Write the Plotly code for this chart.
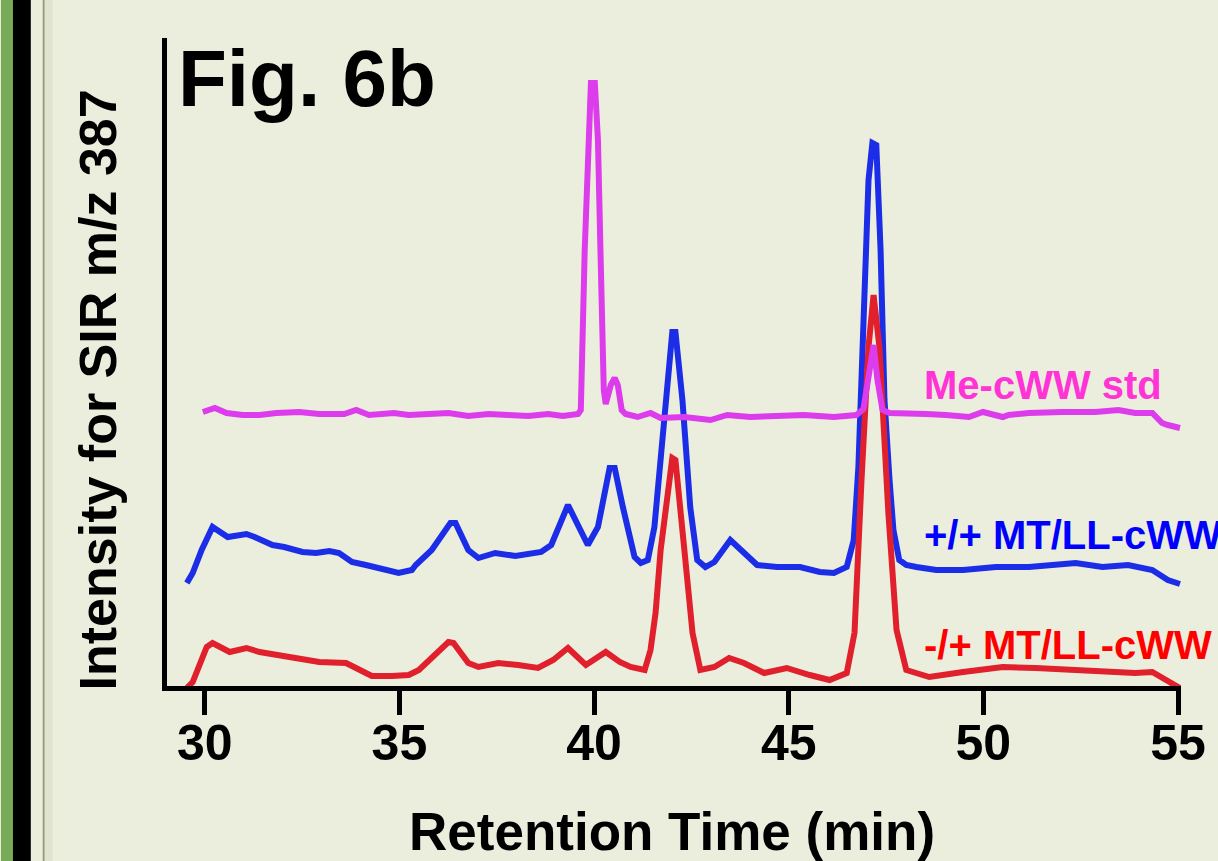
import plotly.graph_objects as go

# ---- data (retention time in min, intensity in arbitrary units) ----
me_std_time = [29.95, 30.26, 30.56, 30.97, 31.41, 31.84, 32.43, 32.94, 33.58, 33.89, 34.22, 34.86,
               35.24, 35.75, 36.26, 36.77, 37.29, 37.80, 38.31, 38.82, 39.20, 39.59, 39.66, 39.76,
               39.87, 39.92, 40.02, 40.10, 40.17, 40.25, 40.30, 40.43, 40.53, 40.61, 40.71, 40.81,
               41.12, 41.45, 41.71, 42.32, 42.99, 43.42, 44.01, 44.88, 45.39, 46.16, 46.74, 46.92,
               47.05, 47.18, 47.28, 47.41, 47.59, 48.20, 48.53, 49.04, 49.63, 49.99, 50.50, 50.65,
               51.17, 52.03, 52.88, 53.47, 53.90, 54.34, 54.59, 54.74, 55.05]
me_std_int = [277, 281, 276, 274, 274, 276, 277, 275, 275, 279, 274, 276,
              274, 275, 276, 273, 275, 274, 273, 275, 273, 275, 279, 439,
              589, 606, 606, 549, 429, 299, 285, 304, 311, 304, 279, 275,
              272, 276, 271, 272, 269, 274, 272, 274, 274, 272, 274, 280,
              309, 344, 309, 279, 276, 276, 275, 274, 272, 277, 272, 274,
              276, 277, 277, 279, 276, 276, 266, 264, 261]

wt_time = [29.54, 29.69, 29.92, 30.13, 30.20, 30.59, 31.07, 31.28, 31.74, 32.04, 32.51, 32.86,
           33.20, 33.45, 33.78, 34.14, 34.47, 34.98, 35.32, 35.42, 35.83, 36.31, 36.44, 36.77,
           37.03, 37.46, 37.98, 38.64, 38.90, 39.33, 39.84, 40.10, 40.40, 40.53, 40.74, 41.04,
           41.20, 41.38, 41.55, 41.81, 42.01, 42.09, 42.27, 42.47, 42.65, 42.86, 43.09, 43.50,
           43.85, 44.19, 44.70, 45.29, 45.80, 46.16, 46.49, 46.67, 46.79, 46.92, 47.05, 47.15,
           47.25, 47.36, 47.46, 47.59, 47.69, 47.84, 48.02, 48.28, 48.79, 49.48, 50.32, 51.17,
           52.03, 52.37, 53.06, 53.72, 54.34, 54.74, 55.05]
wt_int = [106, 116, 139, 159, 162, 152, 155, 152, 144, 142, 137, 136,
          138, 136, 127, 124, 121, 116, 119, 124, 139, 166, 166, 139,
          131, 136, 133, 137, 144, 184, 144, 162, 221, 221, 182, 132,
          126, 129, 162, 272, 357, 357, 289, 182, 129, 122, 127, 149,
          136, 124, 122, 122, 117, 116, 122, 149, 222, 389, 509, 546,
          544, 439, 289, 209, 159, 129, 124, 122, 119, 119, 122, 122,
          124, 126, 122, 124, 119, 109, 105]

het_time = [29.54, 29.69, 30.05, 30.20, 30.64, 31.07, 31.41, 31.84, 32.43, 32.94, 33.63, 33.96,
            34.29, 34.81, 35.24, 35.50, 36.26, 36.39, 36.77, 37.03, 37.54, 38.05, 38.56, 38.95,
            39.33, 39.79, 40.30, 40.66, 40.94, 41.30, 41.45, 41.58, 41.71, 42.01, 42.09, 42.32,
            42.53, 42.73, 43.09, 43.47, 43.85, 44.37, 44.95, 45.54, 46.05, 46.49, 46.69, 46.87,
            47.05, 47.18, 47.33, 47.56, 47.77, 48.02, 48.61, 49.48, 50.32, 50.50, 51.34, 52.19,
            53.06, 53.90, 54.34, 54.74, 55.05]
het_int = [1, 7, 42, 46, 37, 41, 37, 34, 31, 27, 26, 19,
           13, 13, 14, 19, 47, 46, 26, 22, 26, 24, 21, 29,
           41, 24, 37, 27, 22, 19, 39, 76, 139, 231, 229, 139,
           56, 19, 22, 31, 26, 16, 21, 14, 9, 16, 56, 209,
           342, 394, 342, 176, 59, 19, 12, 17, 21, 22, 21, 19,
           17, 16, 17, 7, 1]

x_ticks = [30, 35, 40, 45, 50, 55]
x_range = [29.030, 55.077]
y_range = [3, 651]

series_labels = ["Me-cWW std", "+/+ MT/LL-cWW", "-/+ MT/LL-cWW"]

# ---- figure ----
W, H = 1218, 861
ML, MR, MT, MB = 167, 31, 38, 175
PW, PH = W - ML - MR, H - MT - MB
BG = "#ebeedd"
FONT = "Liberation Sans, Arial, sans-serif"


def px_x(p):
    return (p - ML) / PW


def px_y(p):
    return (H - MB - p) / PH


fig = go.Figure()
fig.add_trace(go.Scatter(x=wt_time, y=wt_int, mode="lines",
                         line=dict(color="#1c2de8", width=6), name=series_labels[1]))
fig.add_trace(go.Scatter(x=het_time, y=het_int, mode="lines",
                         line=dict(color="#e0202c", width=6), name=series_labels[2]))
fig.add_trace(go.Scatter(x=me_std_time, y=me_std_int, mode="lines",
                         line=dict(color="#dc3cec", width=6), name=series_labels[0]))

fig.update_layout(
    width=W, height=H,
    margin=dict(l=ML, r=MR, t=MT, b=MB),
    paper_bgcolor=BG, plot_bgcolor=BG,
    showlegend=False,
    font=dict(family=FONT, color="black"),
)
fig.update_xaxes(
    range=x_range, tickvals=x_ticks, ticktext=[str(v) for v in x_ticks],
    showline=True, linecolor="black", linewidth=5,
    ticks="outside", ticklen=24, tickwidth=5, tickcolor="black",
    tickfont=dict(family=FONT, size=50, color="black", weight="bold"),
    ticklabelstandoff=-15, ticklabeloverflow="allow",
    showgrid=False, zeroline=False,
)
fig.update_yaxes(
    range=y_range, showline=True, linecolor="black", linewidth=5,
    showticklabels=False, ticks="", showgrid=False, zeroline=False,
)

annotations = [
    dict(text="Retention Time (min)", x=px_x(675), y=px_y(832), xanchor="center", yanchor="middle",
         font=dict(family=FONT, size=53, color="black", weight="bold")),
    dict(text="Intensity for SIR m/z 387", x=px_x(98), y=px_y(390), textangle=-90,
         xanchor="center", yanchor="middle",
         font=dict(family=FONT, size=52, color="black", weight="bold")),
    dict(text="Fig. 6b", x=px_x(176), y=px_y(78), xanchor="left", yanchor="middle",
         font=dict(family=FONT, size=80, color="black", weight="bold")),
    dict(text=series_labels[0], x=px_x(926), y=px_y(385), xanchor="left", yanchor="middle",
         font=dict(family=FONT, size=40, color="#ff33d6", weight="bold")),
    dict(text=series_labels[1], x=px_x(926), y=px_y(535), xanchor="left", yanchor="middle",
         font=dict(family=FONT, size=40, color="#0000ff", weight="bold")),
    dict(text=series_labels[2], x=px_x(926), y=px_y(645), xanchor="left", yanchor="middle",
         font=dict(family=FONT, size=40, color="#ff0000", weight="bold")),
]
for a in annotations:
    a.update(xref="paper", yref="paper", showarrow=False)
fig.update_layout(annotations=annotations)

# left page border decoration
shapes = [
    dict(type="rect", x0=px_x(0), x1=px_x(12), y0=px_y(861), y1=px_y(0),
         fillcolor="#78ab58", line=dict(width=0)),
    dict(type="rect", x0=px_x(12), x1=px_x(30), y0=px_y(861), y1=px_y(0),
         fillcolor="#000000", line=dict(width=0)),
    dict(type="rect", x0=px_x(42), x1=px_x(44), y0=px_y(861), y1=px_y(0),
         fillcolor="#8e9c74", line=dict(width=0)),
    dict(type="rect", x0=px_x(44), x1=px_x(52), y0=px_y(861), y1=px_y(0),
         fillcolor="#dfe3d0", line=dict(width=0)),
]
for s in shapes:
    s.update(xref="paper", yref="paper", layer="below")
fig.update_layout(shapes=shapes)

fig.write_html("out.html", config={"displayModeBar": False},
               post_script="document.body.style.margin='0';document.body.style.overflow='hidden';")
